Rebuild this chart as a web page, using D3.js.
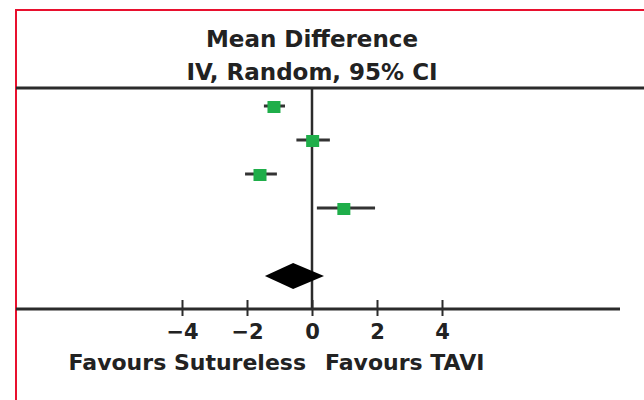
<!DOCTYPE html>
<html>
<head>
<meta charset="utf-8">
<script src="https://cdn.jsdelivr.net/npm/d3@7"></script>
<style>
  html, body { margin: 0; padding: 0; background: #fff; }
  svg { display: block; }
  text { font-family: "DejaVu Sans", sans-serif; font-weight: 700; fill: #222; }
</style>
</head>
<body>
<script>
// Study-level mean differences with 95% CI (IV, random effects)
const studyRows = [0, 1, 2, 3];
const studyMeans = [-1.17, 0.02, -1.60, 0.98];
const studyLower = [-1.48, -0.48, -2.06, 0.15];
const studyUpper = [-0.83, 0.55, -1.08, 1.94];

// Pooled estimate
const pooledRow = 5;
const pooledMean = -0.58;
const pooledLower = -1.45;
const pooledUpper = 0.37;

const tickValues = [-4, -2, 0, 2, 4];
const titleLines = ["Mean Difference", "IV, Random, 95% CI"];
const favourLeft = "Favours Sutureless";
const favourRight = "Favours TAVI";

const W = 644, H = 400;
const svg = d3.select("body").append("svg").attr("width", W).attr("height", H);

const x = d3.scaleLinear().domain([-4, 4]).range([182, 442]);
const y = d3.scaleLinear().domain([0, 5]).range([106, 276]);

const topY = 88, axisY = 309;
const lineColor = "#2b2b2b";
const green = "#1fae4a";

// Frame edge
svg.append("path")
  .attr("d", `M16,${H} V10 H${W}`)
  .attr("fill", "none").attr("stroke", "#e8102e").attr("stroke-width", 2);

// Title
svg.selectAll("text.title").data(titleLines).join("text")
  .attr("class", "title")
  .attr("x", x(0)).attr("y", (d, i) => 47 + i * 33)
  .attr("text-anchor", "middle")
  .attr("font-size", 23)
  .text(d => d);

// Header rule
svg.append("line")
  .attr("x1", 16).attr("x2", W).attr("y1", topY).attr("y2", topY)
  .attr("stroke", lineColor).attr("stroke-width", 3);

// Line of no effect
svg.append("line")
  .attr("x1", x(0)).attr("x2", x(0)).attr("y1", topY).attr("y2", axisY)
  .attr("stroke", lineColor).attr("stroke-width", 2.5);

// Confidence intervals
const studies = studyRows.map((r, i) => ({ r, m: studyMeans[i], lo: studyLower[i], hi: studyUpper[i] }));
svg.selectAll("line.ci").data(studies).join("line")
  .attr("class", "ci")
  .attr("x1", d => x(d.lo)).attr("x2", d => x(d.hi))
  .attr("y1", d => y(d.r)).attr("y2", d => y(d.r))
  .attr("stroke", "#333").attr("stroke-width", 3);

// Study weights (squares)
const sqW = 13, sqH = 12;
svg.selectAll("rect.pt").data(studies).join("rect")
  .attr("class", "pt")
  .attr("x", d => x(d.m) - sqW / 2).attr("y", d => y(d.r) - sqH / 2 + 1)
  .attr("width", sqW).attr("height", sqH)
  .attr("fill", green);

// Pooled diamond
const py = y(pooledRow), ph = 13;
svg.append("path")
  .attr("d", `M${x(pooledLower)},${py} L${x(pooledMean)},${py - ph} L${x(pooledUpper)},${py} L${x(pooledMean)},${py + ph} Z`)
  .attr("fill", "#000");

// Bottom axis
const axis = d3.axisBottom(x).tickValues(tickValues).tickSize(0)
  .tickFormat(d => d < 0 ? "\u2212" + Math.abs(d) : String(d));
const gAxis = svg.append("g").attr("transform", `translate(0,${axisY})`).call(axis);
gAxis.select(".domain").remove();
gAxis.selectAll(".tick line").remove();
gAxis.selectAll(".tick").append("line")
  .attr("y1", -9).attr("y2", 7).attr("stroke", lineColor).attr("stroke-width", 2);
gAxis.selectAll(".tick text")
  .attr("y", 30).attr("dy", 0)
  .attr("font-size", 21).attr("font-family", "\"DejaVu Sans\", sans-serif")
  .attr("font-weight", 700).attr("fill", "#222");
svg.append("line")
  .attr("x1", 16).attr("x2", 620).attr("y1", axisY).attr("y2", axisY)
  .attr("stroke", lineColor).attr("stroke-width", 3);

// Favours labels
svg.append("text").attr("x", 306).attr("y", 370).attr("text-anchor", "end")
  .attr("font-size", 22).text(favourLeft);
svg.append("text").attr("x", 325).attr("y", 370).attr("text-anchor", "start")
  .attr("font-size", 22).text(favourRight);
</script>
</body>
</html>
